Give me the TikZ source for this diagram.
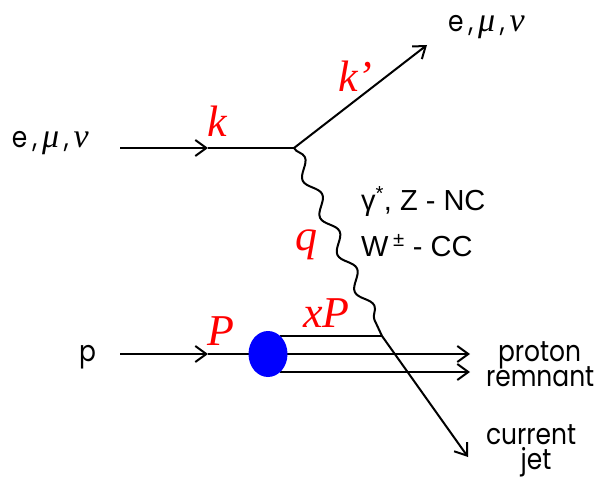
\documentclass[tikz,border=0pt]{standalone}
\usepackage{fontspec}
\usetikzlibrary{arrows.meta,decorations.pathmorphing}
\newfontfamily\geo[FakeStretch=0.86]{Poppins}
\newfontfamily\tms{Liberation Serif}
\newfontfamily\ari{Liberation Sans}
\definecolor{lblred}{RGB}{255,0,0}
\definecolor{blobblue}{RGB}{0,0,255}
\newcommand{\grk}[1]{{\tms\itshape\fontsize{34}{36}\selectfont #1}}
\begin{document}
\begin{tikzpicture}[x=1pt,y=-1pt,line width=2pt,
  tip/.style={-{Straight Barb[length=11pt,width=16pt,line width=2pt]}},
  partlbl/.style={inner sep=0pt,anchor=base west,font=\geo\fontsize{29}{32}\selectfont},
  momlbl/.style={inner sep=0pt,anchor=base west,text=lblred,font=\tms\itshape\fontsize{44}{48}\selectfont},
  bosonlbl/.style={inner sep=0pt,anchor=base west,font=\ari\fontsize{29}{32}\selectfont},
  photon/.style={decorate,decoration={snake,segment length=41pt,amplitude=6pt}}]
\useasboundingbox (0,0) rectangle (601,478);
% coordinates
\coordinate (ein) at (120,148);
\coordinate (ka) at (208,148);
\coordinate (v1) at (294,148);
\coordinate (eout) at (427,45);
\coordinate (v2) at (382,336);
\coordinate (pin) at (120,354);
\coordinate (pa) at (208,354);
\coordinate (t1) at (280,336);
\coordinate (m1) at (268,354);
\coordinate (b1) at (280,372);
\coordinate (mend) at (470,354);
\coordinate (bend) at (470,372);
\coordinate (jend) at (468,457);
% lepton lines
\draw[tip] (ein) -- (ka);
\draw (ka) -- (v1);
\draw[tip] (v1) -- (eout);
% boson
\draw[photon] (v1) -- (v2);
% proton lines
\draw[tip] (pin) -- (pa);
\draw (pa) -- (m1);
\draw (t1) -- (v2);
\draw[tip] (m1) -- (mend);
\draw[tip] (b1) -- (bend);
\draw[tip] (v2) -- (jend);
\fill[blobblue] (m1) ellipse (19.5 and 23);
% labels
\node[partlbl] (lin) at (11,148) {e\,,\,\grk{μ}\,,\,\grk{ν}};
\node[partlbl] (lout) at (447,32) {e\,,\,\grk{μ}\,,\,\grk{ν}};
\node[partlbl] (lp) at (78,361) {p};
\node[partlbl] (lpr) at (497,361) {proton};
\node[partlbl] (lrem) at (485,386) {remnant};
\node[partlbl] (lcur) at (485,444) {current};
\node[partlbl,anchor=base] (ljet) at (536,469) {jet};
\node[momlbl] (lk) at (206,137) {k};
\node[momlbl] (lkp) at (337,92) {k’};
\node[momlbl] (lq) at (294,250) {q};
\node[momlbl] (lP) at (206,345) {P};
\node[momlbl] (lxP) at (302,327) {xP};
\node[bosonlbl] (lnc) at (360,210) {γ\textsuperscript{*}, Z - NC};
\node[bosonlbl] (lcc) at (360,256) {W\,\textsuperscript{±} - CC};
\end{tikzpicture}
\end{document}
